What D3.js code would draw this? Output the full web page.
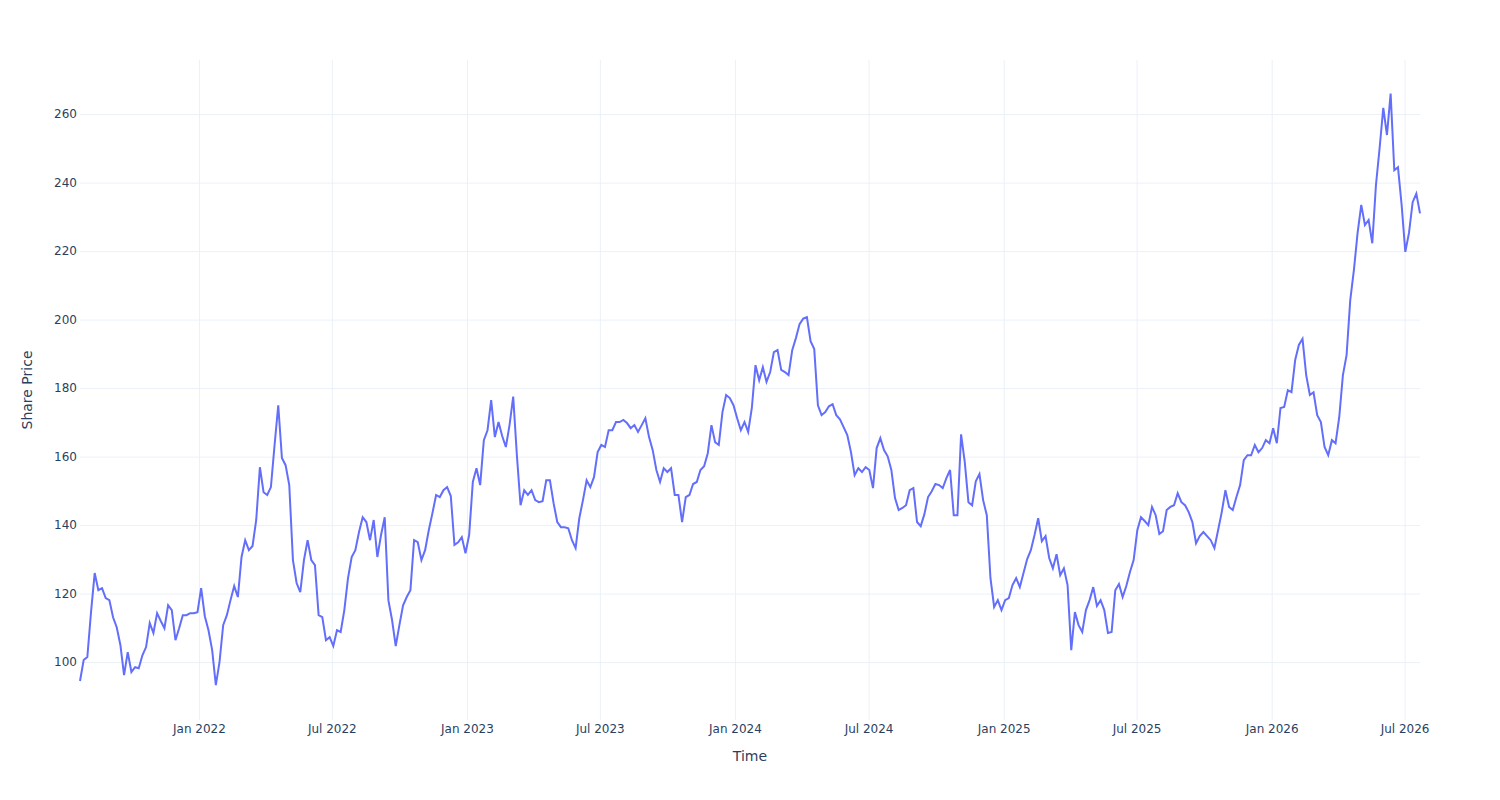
<!DOCTYPE html>
<html>
<head>
<meta charset="utf-8">
<script src="https://cdn.jsdelivr.net/npm/d3@7"></script>
<style>
  body { margin: 0; background: #fff; }
  text { font-family: "DejaVu Sans", Verdana, sans-serif; }
</style>
</head>
<body>
<div id="chart"></div>
<script>
// data: one price every 5 days
var startDate = "2021-07-23";
var stepDays = 5;
var prices = [
  94.5, 100.6, 101.5, 114.6, 126.0, 121.0, 121.6, 118.7, 118.1, 113.1,
  110.2, 105.0, 96.2, 102.9, 97.1, 98.5, 98.2, 102.0, 104.4, 111.4,
  108.5, 114.3, 112.0, 109.9, 116.6, 115.2, 106.4, 109.9, 113.7, 113.7,
  114.3, 114.3, 114.6, 121.6, 113.4, 109.3, 103.5, 93.3, 100.0, 110.8,
  113.7, 118.1, 122.2, 119.0, 130.7, 135.6, 132.7, 133.9, 141.5, 156.9,
  149.6, 148.8, 151.1, 163.4, 175.0, 159.6, 157.5, 151.7, 129.8, 123.1,
  120.4, 129.8, 135.6, 129.8, 128.3, 113.7, 113.1, 106.4, 107.3, 104.7,
  109.3, 108.8, 115.2, 124.5, 130.7, 132.7, 138.0, 142.3, 140.9, 135.6,
  141.5, 130.7, 137.1, 142.3, 118.1, 112.3, 104.7, 110.8, 116.6, 119.0,
  121.0, 135.6, 135.0, 129.8, 132.7, 138.5, 143.5, 148.8, 148.2, 150.2,
  151.1, 148.5, 134.2, 135.0, 136.5, 131.8, 137.1, 152.6, 156.6, 151.7,
  164.8, 167.7, 176.5, 165.7, 170.1, 166.0, 162.8, 169.2, 177.5, 160.4,
  145.8, 150.2, 148.8, 150.2, 147.3, 146.7, 147.0, 153.1, 153.1, 146.4,
  140.9, 139.4, 139.4, 139.1, 135.6, 133.3, 142.0, 147.3, 153.1, 151.1,
  154.0, 161.3, 163.4, 162.8, 167.7, 167.7, 170.1, 170.1, 170.7, 169.8,
  168.3, 169.2, 167.2, 169.2, 171.2, 165.7, 161.9, 156.1, 152.6, 156.6,
  155.5, 156.6, 148.8, 148.8, 140.9, 148.2, 148.8, 152.0, 152.6, 156.1,
  157.2, 161.0, 169.2, 164.2, 163.4, 173.0, 178.0, 177.1, 175.0, 171.2,
  167.7, 170.1, 167.2, 174.2, 186.7, 182.3, 186.1, 181.8, 184.7, 190.5,
  191.1, 185.3, 184.7, 183.8, 191.1, 194.6, 198.7, 200.3, 200.7, 193.7,
  191.4, 175.0, 172.1, 173.0, 174.7, 175.3, 172.1, 170.9, 168.6, 166.3,
  161.3, 154.6, 156.6, 155.5, 156.9, 156.1, 150.8, 162.5, 165.4, 161.9,
  160.1, 156.1, 147.9, 144.4, 145.0, 145.8, 150.2, 150.8, 140.9, 139.7,
  143.2, 148.2, 149.9, 152.0, 151.7, 150.8, 153.7, 156.1, 142.9, 142.9,
  166.5, 158.4, 146.7, 145.8, 152.8, 154.9, 147.3, 142.9, 124.5, 116.1,
  118.1, 115.2, 118.1, 118.7, 122.5, 124.5, 121.9, 126.0, 130.1, 132.7,
  137.1, 142.0, 135.3, 136.8, 130.4, 127.4, 131.5, 125.4, 127.4, 122.5,
  103.5, 114.6, 110.8, 108.8, 115.2, 118.1, 121.9, 116.4, 118.1, 115.2,
  108.5, 108.8, 121.0, 122.8, 119.0, 122.2, 126.3, 129.8, 138.5, 142.3,
  141.2, 140.0, 145.3, 142.9, 137.4, 138.2, 144.4, 145.3, 145.8, 149.3,
  146.7, 145.8, 143.8, 140.9, 134.7, 136.8, 138.0, 136.8, 135.6, 133.3,
  138.5, 143.8, 150.2, 145.3, 144.4, 148.2, 151.7, 159.0, 160.4, 160.4,
  163.4, 161.3, 162.5, 164.8, 163.9, 168.3, 163.9, 174.2, 174.5, 179.4,
  178.8, 188.2, 192.6, 194.4, 183.8, 178.0, 178.8, 172.1, 170.1, 162.8,
  160.4, 164.8, 163.9, 171.5, 183.8, 189.6, 205.7, 214.5, 225.3, 233.5,
  227.6, 229.1, 222.3, 239.3, 250.1, 261.8, 253.9, 266.0, 243.6, 244.5,
  233.4, 219.8, 225.3, 234.3, 236.8, 231.0
];
var yTicks = [100, 120, 140, 160, 180, 200, 220, 240, 260];
var xTicks = ["2022-01-01", "2022-07-01", "2023-01-01", "2023-07-01", "2024-01-01",
              "2024-07-01", "2025-01-01", "2025-07-01", "2026-01-01", "2026-07-01"];

var parseDate = d3.timeParse("%Y-%m-%d");
var start = parseDate(startDate);
var data = prices.map(function(p, i) {
  return { date: d3.timeDay.offset(start, i * stepDays), price: p };
});

var margin = { top: 60, right: 80, bottom: 80, left: 80 },
    width = 1500 - margin.left - margin.right,
    height = 800 - margin.top - margin.bottom;

var svg = d3.select("#chart")
  .append("svg")
    .attr("width", width + margin.left + margin.right)
    .attr("height", height + margin.top + margin.bottom)
  .append("g")
    .attr("transform", "translate(" + margin.left + "," + margin.top + ")");

var x = d3.scaleTime()
  .domain(d3.extent(data, function(d) { return d.date; }))
  .range([0, width]);

var y = d3.scaleLinear()
  .domain([83.1, 275.8])
  .range([height, 0]);

// X axis with vertical grid
var xAxis = svg.append("g")
  .attr("transform", "translate(0," + height + ")")
  .call(d3.axisBottom(x)
    .tickValues(xTicks.map(parseDate))
    .tickSize(-height)
    .tickPadding(4)
    .tickFormat(d3.timeFormat("%b %Y")));

// Y axis with horizontal grid
var yAxis = svg.append("g")
  .call(d3.axisLeft(y)
    .tickValues(yTicks)
    .tickSize(-width)
    .tickPadding(3));

[xAxis, yAxis].forEach(function(ax) {
  ax.select(".domain").remove();
  ax.selectAll(".tick line").attr("stroke", "#EBF0F8").attr("stroke-width", 1);
  ax.selectAll(".tick text")
    .attr("fill", "#2a3f5f")
    .style("font-size", "12px")
    .style("font-family", "'DejaVu Sans', Verdana, sans-serif");
});

// the price line
svg.append("path")
  .datum(data)
  .attr("fill", "none")
  .attr("stroke", "#636efa")
  .attr("stroke-width", 2)
  .attr("d", d3.line()
    .x(function(d) { return x(d.date); })
    .y(function(d) { return y(d.price); }));

// axis titles
svg.append("text")
  .attr("x", width / 2)
  .attr("y", height + 41)
  .attr("text-anchor", "middle")
  .attr("fill", "#2a3f5f")
  .style("font-size", "14px")
  .text("Time");

svg.append("text")
  .attr("transform", "translate(-48," + (height / 2) + ")rotate(-90)")
  .attr("text-anchor", "middle")
  .attr("fill", "#2a3f5f")
  .style("font-size", "14px")
  .text("Share Price");
</script>
</body>
</html>
